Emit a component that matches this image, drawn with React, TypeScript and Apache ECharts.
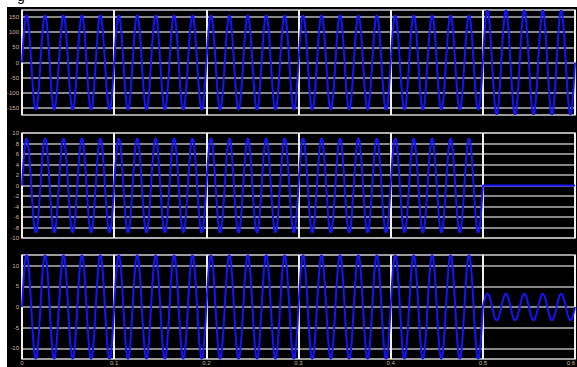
import { useEffect, useRef } from "react";
import * as echarts from "echarts";

// Signal parameters
const frequencyHz = 50;
const sampleStep = 0.0004;
const segmentStarts = [0, 0.5];
const segmentEnds = [0.5, 0.6];
const panel1Amplitudes = [156, 172];
const panel2Amplitudes = [9, 0];
const panel3Amplitudes = [12.6, 3.2];

// Axis ticks
const xTicks = [0, 0.1, 0.2, 0.3, 0.4, 0.5, 0.6];
const panel1Ticks = [-150, -100, -50, 0, 50, 100, 150];
const panel2Ticks = [-10, -8, -6, -4, -2, 0, 2, 4, 6, 8, 10];
const panel3Ticks = [-10, -5, 0, 5, 10];
const panel1Range = [-173, 173];
const panel2Range = [-10, 10];
const panel3Range = [-12.6, 12.6];

function buildSignal(amps: number[]): number[][] {
  const out: number[][] = [];
  for (let s = 0; s < segmentStarts.length; s++) {
    const n = Math.round((segmentEnds[s] - segmentStarts[s]) / sampleStep);
    for (let i = s === 0 ? 0 : 1; i <= n; i++) {
      const t = segmentStarts[s] + i * sampleStep;
      out.push([t, amps[s] * Math.sin(2 * Math.PI * frequencyHz * t)]);
    }
  }
  return out;
}

export default function App() {
  const ref = useRef<HTMLDivElement>(null);
  useEffect(() => {
    if (!ref.current) return;
    const chart = echarts.init(ref.current, null, { renderer: "svg" });
    const labelColor = "#cdb995";
    const tops = [3, 126, 248];
    const heights = [105, 105, 104];
    const ranges = [panel1Range, panel2Range, panel3Range];
    const ticks = [panel1Ticks, panel2Ticks, panel3Ticks];
    const amps = [panel1Amplitudes, panel2Amplitudes, panel3Amplitudes];
    chart.setOption({
      animation: false,
      backgroundColor: "#000",
      grid: tops.map((t, i) => ({
        left: 15,
        width: 553,
        top: t,
        height: heights[i],
        show: true,
        containLabel: false,
        outerBoundsMode: "none",
        backgroundColor: "#000",
        borderColor: "#cfcfcf",
        borderWidth: 1.5,
      })),
      xAxis: tops.map((_, i) => ({
        type: "value",
        gridIndex: i,
        min: xTicks[0],
        max: xTicks[xTicks.length - 1],
        interval: 0.1,
        axisLine: { show: false },
        axisTick: { show: false },
        axisLabel: {
          show: i === 2,
          color: labelColor,
          fontSize: 6,
          margin: 1,
          alignMaxLabel: "right",
          formatter: (v: number) => String(+v.toFixed(1)),
        },
        splitLine: { show: true, lineStyle: { color: "#f0f0f0", width: 2 } },
      })),
      yAxis: tops.map((_, i) => ({
        type: "value",
        gridIndex: i,
        min: ranges[i][0],
        max: ranges[i][1],
        axisLine: { show: false },
        axisTick: { show: false, customValues: ticks[i] },
        axisLabel: {
          color: labelColor,
          fontSize: 6,
          margin: 3,
          customValues: ticks[i],
        },
        splitLine: { show: true, lineStyle: { color: "#b4b4b4", width: 1.5 } },
      })),
      series: tops.map((_, i) => ({
        type: "line",
        xAxisIndex: i,
        yAxisIndex: i,
        showSymbol: false,
        clip: true,
        lineStyle: { color: "#1414ff", width: 2 },
        data: buildSignal(amps[i]),
      })),
    });
    return () => chart.dispose();
  }, []);
  return (
    <div
      style={{
        position: "absolute",
        left: 0,
        top: 0,
        width: 577,
        height: 367,
        background: "#fff",
        overflow: "hidden",
      }}
    >
      <span
        style={{
          position: "absolute",
          left: 17,
          top: -12,
          fontSize: 14,
          lineHeight: "16px",
          fontFamily: "Liberation Sans, Arial, sans-serif",
          color: "#000",
        }}
      >
        g
      </span>
      <div
        ref={ref}
        style={{ position: "absolute", left: 7, top: 7, width: 570, height: 360 }}
      />
    </div>
  );
}
